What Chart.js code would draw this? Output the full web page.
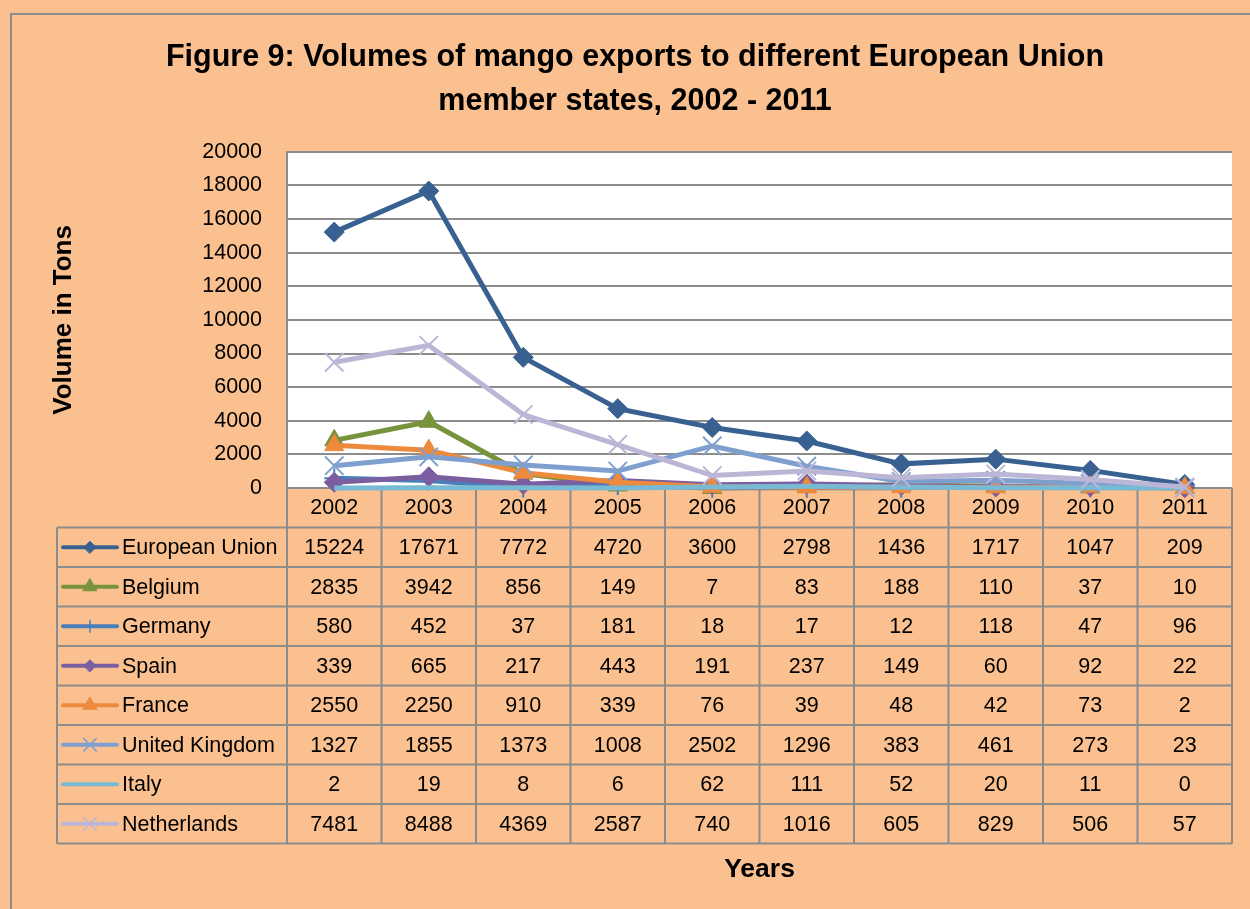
<!DOCTYPE html>
<html>
<head>
<meta charset="utf-8">
<script src="https://cdn.jsdelivr.net/npm/chart.js@4.4.1/dist/chart.umd.min.js"></script>
<style>
  html, body { margin: 0; padding: 0; background: #ffffff; }
  #wrap { width: 1250px; height: 909px; }
  canvas { display: block; }
</style>
</head>
<body>
<div id="wrap"><canvas id="c" width="1250" height="909"></canvas></div>
<script>
// ---- data ----
const years = ['2002','2003','2004','2005','2006','2007','2008','2009','2010','2011'];
const seriesNames = ['European Union','Belgium','Germany','Spain','France','United Kingdom','Italy','Netherlands'];
const europeanUnion = [15224,17671,7772,4720,3600,2798,1436,1717,1047,209];
const belgium       = [2835,3942,856,149,7,83,188,110,37,10];
const germany       = [580,452,37,181,18,17,12,118,47,96];
const spain         = [339,665,217,443,191,237,149,60,92,22];
const france        = [2550,2250,910,339,76,39,48,42,73,2];
const unitedKingdom = [1327,1855,1373,1008,2502,1296,383,461,273,23];
const italy         = [2,19,8,6,62,111,52,20,11,0];
const netherlands   = [7481,8488,4369,2587,740,1016,605,829,506,57];
const yTicks = [0,2000,4000,6000,8000,10000,12000,14000,16000,18000,20000];

const seriesValues = [europeanUnion, belgium, germany, spain, france, unitedKingdom, italy, netherlands];

// ---- styles ----
const colors = ['#386192','#77933C','#4A7EBB','#7B5EA0','#EE8A3C','#7FA0CF','#78BAD4','#BCB6D6'];
const pointStyles = ['rectRot','triangle','cross','rectRot','triangle','crossRot',false,'crossRot'];
const pointRadii = [10,11,10,10,11,13,0,13];
const keyRadii = [6,8,6,6,8,9,0,9];

const FAM = "'Liberation Sans Narrow', 'Arial Narrow', 'Liberation Sans', Arial, sans-serif";
const BG = '#FAC090';
const LINE = '#8C8C8C';
const PAD_LEFT = 38;

const datasets = seriesNames.map((name, i) => ({
  label: name,
  data: seriesValues[i],
  borderColor: colors[i],
  backgroundColor: colors[i],
  borderWidth: 5,
  pointStyle: pointStyles[i],
  pointRadius: pointRadii[i],
  pointHoverRadius: pointRadii[i],
  pointBorderWidth: (pointStyles[i] === 'cross' || pointStyles[i] === 'crossRot') ? 2 : 1,
  pointBackgroundColor: colors[i],
  pointBorderColor: colors[i],
  tension: 0,
  clip: false,
  order: seriesNames.length - i
}));

const bgPlugin = {
  id: 'bgPlugin',
  beforeDraw(chart) {
    const {ctx, chartArea} = chart;
    ctx.save();
    ctx.fillStyle = BG;
    ctx.fillRect(0, 0, chart.width, chart.height);
    ctx.strokeStyle = LINE;
    ctx.lineWidth = 2;
    ctx.strokeRect(11, 14, chart.width + 20, chart.height + 20);
    ctx.fillStyle = '#ffffff';
    ctx.fillRect(chartArea.left, chartArea.top, chartArea.right - chartArea.left, chartArea.bottom - chartArea.top);
    ctx.restore();
  }
};

const tablePlugin = {
  id: 'tablePlugin',
  beforeDatasetsDraw(chart) {
    const {ctx, chartArea} = chart;
    const xs = chart.scales.x;
    const n = years.length;
    const colW = (xs.right - xs.left) / n;
    const rowH = 39.5;
    const top = chartArea.bottom;
    const nRows = seriesNames.length;
    const tableLeft = chartArea.left - 230;
    const bottom = top + rowH * (nRows + 1);
    ctx.save();
    ctx.strokeStyle = LINE;
    ctx.lineWidth = 2;
    ctx.beginPath();
    for (let k = 0; k <= n; k++) {
      const x = xs.left + k * colW;
      ctx.moveTo(x, top);
      ctx.lineTo(x, bottom);
    }
    ctx.moveTo(tableLeft, top + rowH);
    ctx.lineTo(tableLeft, bottom);
    ctx.moveTo(xs.left, top);
    ctx.lineTo(xs.right, top);
    for (let r = 1; r <= nRows + 1; r++) {
      const y = top + r * rowH;
      ctx.moveTo(tableLeft, y);
      ctx.lineTo(xs.right, y);
    }
    ctx.stroke();

    ctx.font = '21.5px ' + FAM;
    ctx.textBaseline = 'middle';
    for (let r = 0; r < nRows; r++) {
      const cy = top + (r + 1) * rowH + rowH / 2;
      ctx.strokeStyle = colors[r];
      ctx.lineWidth = 4;
      ctx.lineCap = 'round';
      ctx.beginPath();
      ctx.moveTo(tableLeft + 6, cy);
      ctx.lineTo(tableLeft + 60, cy);
      ctx.stroke();
      if (pointStyles[r]) {
        ctx.fillStyle = colors[r];
        ctx.strokeStyle = colors[r];
        ctx.lineWidth = (pointStyles[r] === 'cross' || pointStyles[r] === 'crossRot') ? 1.5 : 1;
        Chart.helpers.drawPoint(ctx, {pointStyle: pointStyles[r], radius: keyRadii[r], borderWidth: ctx.lineWidth, rotation: 0}, tableLeft + 33, cy);
      }
      ctx.fillStyle = '#000000';
      ctx.textAlign = 'left';
      ctx.fillText(seriesNames[r], tableLeft + 65, cy + 1);
      ctx.textAlign = 'center';
      const vals = seriesValues[r];
      for (let k = 0; k < n; k++) {
        ctx.fillText(String(vals[k]), xs.getPixelForValue(k), cy + 1);
      }
    }
    ctx.restore();
  }
};

new Chart(document.getElementById('c'), {
  type: 'line',
  data: { labels: years, datasets },
  options: {
    responsive: false,
    devicePixelRatio: 1,
    animation: false,
    events: [],
    layout: { padding: { left: PAD_LEFT, right: 18, top: 0, bottom: 0 } },
    plugins: {
      legend: { display: false },
      tooltip: { enabled: false },
      title: {
        display: true,
        text: ['Figure 9: Volumes of mango exports to different European Union', 'member states, 2002 - 2011'],
        color: '#000000',
        font: { family: FAM, size: 30.5, weight: 'bold', lineHeight: 1.44 },
        padding: { top: 36, bottom: 28 }
      }
    },
    scales: {
      x: {
        type: 'category',
        offset: true,
        grid: { display: false, drawTicks: false },
        border: { display: false },
        ticks: { color: '#000000', font: { family: FAM, size: 21.5, lineHeight: 1.2 }, padding: 7, maxRotation: 0, autoSkip: false },
        title: { display: true, text: 'Years', color: '#000000', font: { family: FAM, size: 26.5, weight: 'bold', lineHeight: 1.2 }, padding: { top: 0, bottom: 23 } },
        afterFit(scale) { scale.height = 421; }
      },
      y: {
        min: 0,
        max: 20000,
        afterBuildTicks(scale) { scale.ticks = yTicks.map(v => ({ value: v })); },
        grid: { color: LINE, lineWidth: 2, drawTicks: false },
        border: { display: true, color: LINE, width: 2 },
        ticks: { color: '#000000', font: { family: FAM, size: 21.5, lineHeight: 1.2 }, padding: 25, autoSkip: false, callback: v => String(v) },
        title: { display: true, text: 'Volume in Tons', color: '#000000', font: { family: FAM, size: 26, weight: 'bold', lineHeight: 1.2 }, padding: { top: 48 - PAD_LEFT, bottom: 0 } },
        afterFit(scale) { scale.width = 287 - PAD_LEFT; }
      }
    }
  },
  plugins: [bgPlugin, tablePlugin]
});
</script>
</body>
</html>
